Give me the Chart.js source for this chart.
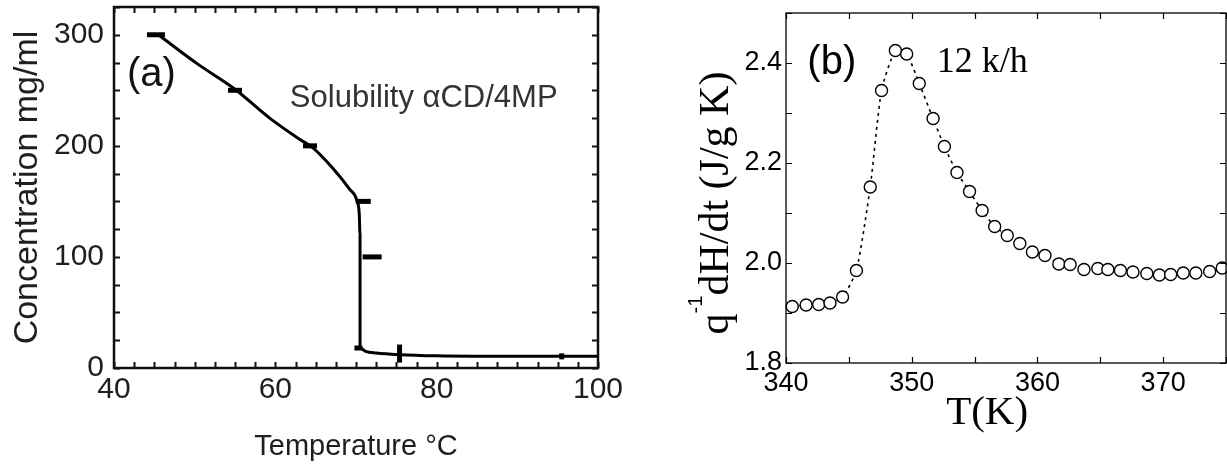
<!DOCTYPE html>
<html>
<head>
<meta charset="utf-8">
<script src="https://cdn.jsdelivr.net/npm/chart.js@4.4.0/dist/chart.umd.min.js"></script>
<style>
  html, body { margin:0; padding:0; background:#fff; }
  body { width:1227px; height:470px; position:relative; overflow:hidden; }
  .wrap { position:absolute; top:0; height:470px; }
  #wrapA { left:0; width:640px; }
  #wrapB { left:680px; width:547px; }
</style>
</head>
<body>
<div class="wrap" id="wrapA"><canvas id="chartA" width="640" height="470"></canvas></div>
<div class="wrap" id="wrapB"><canvas id="chartB" width="547" height="470"></canvas></div>
<script>
/***** data: (a) solubility *****/
const solT = [45.5, 50.3, 55, 59.3, 63, 64.7, 67.1, 69.2, 70.1, 70.4, 70.5, 70.5, 71.2, 72.5, 75.4, 80, 90, 100];
const solC = [300, 274, 251, 225, 206, 198, 180, 161, 151, 139, 120, 18, 15, 13.5, 12, 11, 10.5, 10.5];
// measured points, drawn as short bars
const markT = [45.2, 55, 64.3, 70.9, 72.0, 70.3, 75.4, 95.5];
const markC = [300, 250, 200, 150, 100, 18, 13, 10.5];
const markLen = [9, 7, 7, 7.5, 9.5, 4, 9, 3];
const markRot = [0, 0, 0, 0, 0, 0, 90, 90];
const xTicksA = [40, 60, 80, 100];
const yTicksA = [0, 100, 200, 300];

/***** data: (b) heat flow at 12 k/h *****/
const tempK = [340.5, 341.6, 342.6, 343.5, 344.5, 345.6, 346.7, 347.6, 348.7, 349.6,
  350.6, 351.7, 352.6, 353.6, 354.6, 355.6, 356.6, 357.6, 358.6, 359.6,
  360.6, 361.7, 362.6, 363.7, 364.8, 365.6, 366.6, 367.6, 368.7, 369.7,
  370.6, 371.6, 372.6, 373.7, 374.7];
const heatFlow = [1.913, 1.916, 1.917, 1.920, 1.932, 1.985, 2.152, 2.345, 2.425, 2.418,
  2.359, 2.289, 2.233, 2.181, 2.143, 2.105, 2.073, 2.055, 2.039, 2.022,
  2.015, 1.998, 1.997, 1.987, 1.989, 1.987, 1.985, 1.982, 1.979, 1.976,
  1.977, 1.980, 1.980, 1.983, 1.990];
const xTicksB = [340, 350, 360, 370];
const yTicksB = [1.8, 2.0, 2.2, 2.4];

/***** helpers *****/
const toXY = (xs, ys) => xs.map((v, i) => ({ x: v, y: ys[i] }));
const isMajor = (list) => (v) => list.some(t => Math.abs(t - v) < 1e-6);
// keep the plot box where we put it (no extra room for edge labels)
const fixX = (h) => (s) => { s.height = h; s.paddingLeft = 0; s.paddingRight = 0; };
const fixY = (w) => (s) => { s.width = w; s.paddingTop = 0; s.paddingBottom = 0; };
const noGrid = { display: false, drawTicks: false };

// box frame + inward ticks on all four sides
const frameTicks = {
  id: 'frameTicks',
  afterDatasetsDraw(chart, args, o) {
    const { ctx, chartArea: a, scales: { x, y } } = chart;
    ctx.save();
    ctx.strokeStyle = o.color;
    ctx.lineWidth = o.tickWidth;
    ctx.beginPath();
    x.ticks.forEach(t => {
      const px = Math.round(x.getPixelForValue(t.value)) + 0.5;
      ctx.moveTo(px, a.bottom); ctx.lineTo(px, a.bottom - o.len);
      ctx.moveTo(px, a.top); ctx.lineTo(px, a.top + o.len);
    });
    y.ticks.forEach(t => {
      const py = Math.round(y.getPixelForValue(t.value)) + 0.5;
      ctx.moveTo(a.left, py); ctx.lineTo(a.left + o.len, py);
      ctx.moveTo(a.right, py); ctx.lineTo(a.right - o.len, py);
    });
    ctx.stroke();
    ctx.lineWidth = o.width;
    ctx.strokeRect(a.left, a.top, a.right - a.left, a.bottom - a.top);
    ctx.restore();
  }
};

// free text placed at data coordinates
const notes = {
  id: 'notes',
  afterDraw(chart, args, o) {
    const { ctx, scales: { x, y } } = chart;
    (o.items || []).forEach(it => {
      ctx.save();
      ctx.font = it.font;
      ctx.fillStyle = it.color || '#000';
      ctx.textAlign = it.align || 'left';
      ctx.textBaseline = 'middle';
      ctx.fillText(it.text, x.getPixelForValue(it.x), y.getPixelForValue(it.y));
      ctx.restore();
    });
  }
};

// rotated y title with a superscript part
const supTitle = {
  id: 'supTitle',
  afterDraw(chart, args, o) {
    if (!o.parts) return;
    const { ctx, chartArea: a } = chart;
    ctx.save();
    ctx.translate(o.x, (a.top + a.bottom) / 2 + (o.dy || 0));
    ctx.rotate(-Math.PI / 2);
    ctx.fillStyle = '#000';
    ctx.textBaseline = 'alphabetic';
    let total = 0;
    o.parts.forEach(p => { ctx.font = p.font; total += ctx.measureText(p.text).width; });
    let cx = -total / 2;
    o.parts.forEach(p => {
      ctx.font = p.font;
      ctx.fillText(p.text, cx, p.rise ? -p.rise : 0);
      cx += ctx.measureText(p.text).width;
    });
    ctx.restore();
  }
};

/***** (a) *****/
const inkA = '#1e1e1e';
const sansA = 'Liberation Sans, Arial, sans-serif';
new Chart(document.getElementById('chartA'), {
  type: 'scatter',
  data: {
    datasets: [
      {
        data: toXY(solT, solC),
        showLine: true,
        borderColor: '#000',
        borderWidth: 3,
        pointRadius: 0,
        cubicInterpolationMode: 'monotone'
      },
      {
        data: toXY(markT, markC),
        showLine: false,
        pointStyle: 'line',
        pointRadius: markLen,
        pointRotation: markRot,
        pointBorderWidth: 5,
        borderColor: '#000',
        backgroundColor: '#000'
      }
    ]
  },
  options: {
    responsive: false,
    animation: false,
    events: [],
    layout: { autoPadding: false, padding: { left: 0, right: 42, top: 7, bottom: 0 } },
    plugins: {
      legend: { display: false },
      tooltip: { enabled: false },
      frameTicks: { color: '#111', width: 2.5, tickWidth: 2, len: 6 },
      notes: {
        items: [
          { text: '(a)', x: 41.6, y: 264, font: '40px ' + sansA, color: '#111' },
          { text: 'Solubility αCD/4MP', x: 61.8, y: 243, font: '31px ' + sansA, color: '#333' }
        ]
      }
    },
    scales: {
      x: {
        type: 'linear', min: 40, max: 100,
        grid: noGrid, border: { display: false },
        ticks: {
          stepSize: 2.5, autoSkip: false, maxRotation: 0, padding: 4,
          color: inkA, font: { family: sansA, size: 30 },
          callback: v => isMajor(xTicksA)(v) ? String(v) : ''
        },
        title: {
          display: true, text: 'Temperature °C', color: inkA,
          font: { family: sansA, size: 29 }, padding: { top: 0, bottom: 6 }
        },
        afterFit: fixX(102)
      },
      y: {
        type: 'linear', min: 0, max: 325,
        grid: noGrid, border: { display: false },
        ticks: {
          stepSize: 25, autoSkip: false, padding: 10,
          color: inkA, font: { family: sansA, size: 30 },
          callback: v => isMajor(yTicksA)(v) ? String(v) : ''
        },
        title: {
          display: true, text: 'Concentration mg/ml', color: inkA,
          font: { family: sansA, size: 34 }, padding: { top: 7, bottom: 0 }
        },
        afterFit: fixY(114)
      }
    }
  },
  plugins: [frameTicks, notes]
});

/***** (b) *****/
const sansB = 'Liberation Sans, Arial, sans-serif';
const serifB = 'Liberation Serif, Times New Roman, serif';
new Chart(document.getElementById('chartB'), {
  type: 'scatter',
  data: {
    datasets: [{
      data: toXY(tempK, heatFlow),
      showLine: true,
      borderColor: '#000',
      borderWidth: 1.6,
      borderDash: [3, 4],
      tension: 0.2,
      pointStyle: 'circle',
      pointRadius: 6,
      pointBorderWidth: 1.4,
      pointBorderColor: '#000',
      pointBackgroundColor: '#fff',
      clip: false
    }]
  },
  options: {
    responsive: false,
    animation: false,
    events: [],
    layout: { autoPadding: false, padding: { left: 0, right: 1, top: 13, bottom: 0 } },
    plugins: {
      legend: { display: false },
      tooltip: { enabled: false },
      frameTicks: { color: '#000', width: 1.3, tickWidth: 1.2, len: 6 },
      notes: {
        items: [
          { text: '(b)', x: 341.7, y: 2.40, font: '40px ' + sansB },
          { text: '12 k/h', x: 352.0, y: 2.40, font: '36px ' + serifB },
          { text: 'T(K)', x: 356.0, y: 1.700, align: 'center', font: '41px ' + serifB }
        ]
      },
      supTitle: {
        x: 48, dy: 15,
        parts: [
          { text: 'q', font: '42px ' + serifB },
          { text: '-1', font: '20px ' + sansB, rise: 26 },
          { text: 'dH/dt (J/g K)', font: '42px ' + serifB }
        ]
      }
    },
    scales: {
      x: {
        type: 'linear', min: 340, max: 375,
        grid: noGrid, border: { display: false },
        ticks: {
          stepSize: 5, autoSkip: false, maxRotation: 0, padding: 4,
          color: '#000', font: { family: sansB, size: 27 },
          callback: v => isMajor(xTicksB)(v) ? String(v) : ''
        },
        afterFit: fixX(107)
      },
      y: {
        type: 'linear', min: 1.8, max: 2.5,
        grid: noGrid, border: { display: false },
        ticks: {
          stepSize: 0.1, autoSkip: false, padding: 4,
          color: '#000', font: { family: sansB, size: 27 },
          callback: v => isMajor(yTicksB)(v) ? v.toFixed(1) : ''
        },
        afterFit: fixY(106)
      }
    }
  },
  plugins: [frameTicks, notes, supTitle]
});
</script>
</body>
</html>
